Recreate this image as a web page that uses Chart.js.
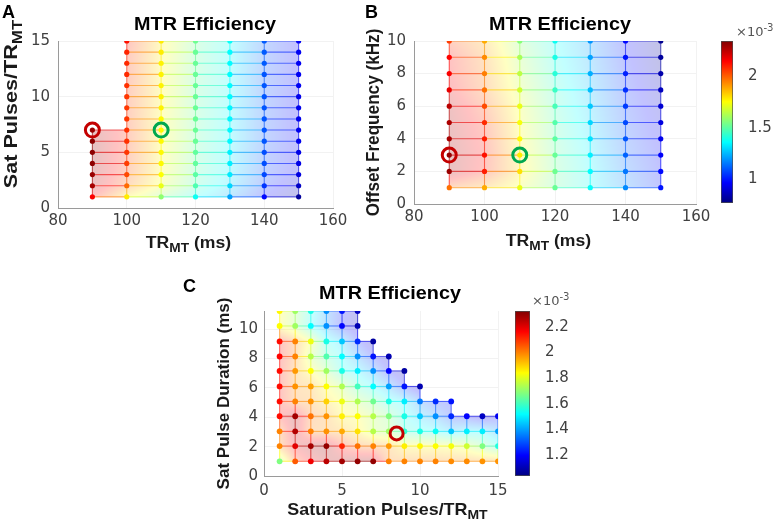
<!DOCTYPE html>
<html>
<head>
<meta charset="utf-8">
<script src="https://cdn.jsdelivr.net/npm/chart.js@4.4.0/dist/chart.umd.min.js"></script>
<style>
  html, body { margin: 0; padding: 0; background: #fff; }
  body { width: 780px; height: 521px; position: relative; overflow: hidden; }
  canvas { position: absolute; }
</style>
</head>
<body>
<canvas id="chartA" width="360" height="260" style="left:0;top:0"></canvas>
<canvas id="chartB" width="360" height="260" style="left:360px;top:0"></canvas>
<canvas id="cbarB" width="65" height="260" style="left:715px;top:0"></canvas>
<canvas id="chartC" width="350" height="246" style="left:170px;top:275px"></canvas>
<canvas id="cbarC" width="71" height="246" style="left:509px;top:275px"></canvas>
<script>
// MTR efficiency values, in units of 1e-3

// panel A: rows = sat pulses per TR, cols = TR_MT
const trMT = [90, 100, 110, 120, 130, 140, 150];
const satPulsesA = [1, 2, 3, 4, 5, 6, 7, 8, 9, 10, 11, 12, 13, 14, 15];
const effA = [
  [2.15, 1.78, 1.58, 1.38, 1.22, 0.98, 0.82],
  [2.28, 1.98, 1.72, 1.48, 1.30, 1.05, 0.88],
  [2.30, 2.03, 1.75, 1.50, 1.33, 1.08, 0.92],
  [2.32, 2.05, 1.76, 1.51, 1.34, 1.09, 0.93],
  [2.32, 2.06, 1.76, 1.51, 1.34, 1.09, 0.93],
  [2.32, 2.07, 1.76, 1.52, 1.35, 1.10, 0.94],
  [2.30, 2.07, 1.76, 1.52, 1.35, 1.10, 0.94],
  [null, 2.06, 1.76, 1.52, 1.35, 1.10, 0.94],
  [null, 2.06, 1.77, 1.52, 1.35, 1.10, 0.94],
  [null, 2.06, 1.77, 1.52, 1.36, 1.10, 0.94],
  [null, 2.07, 1.77, 1.52, 1.36, 1.10, 0.95],
  [null, 2.08, 1.77, 1.52, 1.36, 1.10, 0.95],
  [null, 2.08, 1.77, 1.52, 1.36, 1.11, 0.95],
  [null, 2.09, 1.78, 1.52, 1.36, 1.11, 0.95],
  [null, 2.12, 1.78, 1.53, 1.37, 1.11, 0.95]
];

// panel B: rows = offset frequency (kHz), cols = TR_MT
const offsetFreq = [1, 2, 3, 4, 5, 6, 7, 8, 9, 10];
const effB = [
  [1.97, 1.88, 1.72, 1.52, 1.37, 1.18, 1.00],
  [2.30, 2.10, 1.80, 1.53, 1.36, 1.15, 0.98],
  [2.30, 2.12, 1.78, 1.52, 1.34, 1.12, 0.96],
  [2.28, 2.10, 1.76, 1.50, 1.32, 1.10, 0.94],
  [2.27, 2.08, 1.74, 1.49, 1.30, 1.08, 0.92],
  [2.25, 2.03, 1.72, 1.47, 1.28, 1.06, 0.90],
  [2.18, 1.97, 1.68, 1.45, 1.26, 1.04, 0.87],
  [2.15, 1.95, 1.65, 1.42, 1.24, 1.02, 0.84],
  [2.14, 1.93, 1.62, 1.40, 1.22, 1.00, 0.82],
  [2.05, 1.88, 1.57, 1.38, 1.20, 0.98, 0.80]
];

// panel C: rows = sat pulse duration (ms), cols = saturation pulses per TR
const satPulsesC = [1, 2, 3, 4, 5, 6, 7, 8, 9, 10, 11, 12, 13, 14, 15];
const pulseDur = [1.0, 2.04, 3.04, 4.07, 5.08, 6.1, 7.16, 8.14, 9.17, 10.22, 11.24];
const effC = [
  [1.68, 2.05, 2.18, 2.25, 2.28, 2.30, 2.30, 2.00, 2.00, 2.00, 2.00, 1.99, 1.99, 1.98, 1.98],
  [2.00, 2.20, 2.28, 2.30, 2.12, 2.02, 2.00, 1.97, 1.86, 1.85, 1.84, 1.83, 1.78, 1.68, 1.56],
  [2.00, 2.26, 2.00, 1.98, 1.95, 1.88, 1.75, 1.72, 1.58, 1.55, 1.53, 1.45, 1.50, 1.50, 1.40],
  [2.15, 2.28, 2.02, 1.98, 1.86, 1.84, 1.75, 1.68, 1.55, 1.45, 1.38, 1.25, 1.20, 1.12, 1.18],
  [2.15, 2.00, 1.98, 1.90, 1.82, 1.74, 1.66, 1.55, 1.50, 1.35, 1.25, 1.22],
  [2.15, 1.98, 1.96, 1.84, 1.74, 1.60, 1.52, 1.40, 1.22, 1.10],
  [2.15, 1.97, 1.84, 1.72, 1.55, 1.50, 1.38, 1.20, 1.08],
  [2.16, 2.00, 1.75, 1.62, 1.52, 1.38, 1.22, 1.10],
  [2.15, 2.00, 1.82, 1.55, 1.45, 1.25, 1.08],
  [1.84, 1.72, 1.52, 1.38, 1.20, 1.10],
  [1.85, 1.72, 1.55, 1.38, 1.22, 1.12]
];

// colour limits of the two colorbars (x1e-3)
const climB = [0.774, 2.339];
const climC = [1.036, 2.325];

// circled settings
const optimumA = [{ x: 90, y: 7 }];
const chosenA = [{ x: 110, y: 7 }];
const optimumB = [{ x: 90, y: 3 }];
const chosenB = [{ x: 110, y: 3 }];
const optimumC = [{ x: 8.5, y: 2.9 }];

const TICK_FONT = { family: 'DejaVu Sans', size: 15 };
const TICK_COLOR = '#404040';
const BOLD = 'Liberation Sans';

function jet(t) {
  t = Math.min(1, Math.max(0, t));
  const f = c => Math.round(255 * Math.min(1, Math.max(0, 1.5 - Math.abs(4 * t - c))));
  return [f(3), f(2), f(1)];
}

function jetColor(v, clim, a) {
  const [r, g, b] = jet((v - clim[0]) / (clim[1] - clim[0]));
  return `rgba(${r},${g},${b},${a})`;
}

// mesh lines along rows and columns, plus the coloured dots
function meshDatasets(xs, ys, M, clim, dotR) {
  const sets = [];
  const addLine = pts => {
    if (pts.length < 2) return;
    sets.push({
      type: 'line',
      data: pts,
      showLine: true,
      pointRadius: 0,
      pointHitRadius: 0,
      borderWidth: 1.1,
      borderColor: 'rgba(0,0,0,0.3)',
      segment: {
        borderColor: c => jetColor((pts[c.p0DataIndex].v + pts[c.p1DataIndex].v) / 2, clim, 0.6)
      },
      order: 2
    });
  };
  ys.forEach((y, j) => {
    const pts = [];
    xs.forEach((x, i) => { const v = M[j][i]; if (v != null) pts.push({ x, y, v }); });
    addLine(pts);
  });
  xs.forEach((x, i) => {
    const pts = [];
    ys.forEach((y, j) => { const v = M[j][i]; if (v != null) pts.push({ x, y, v }); });
    addLine(pts);
  });
  const dots = [];
  ys.forEach((y, j) => xs.forEach((x, i) => {
    const v = M[j][i];
    if (v != null) dots.push({ x, y, v });
  }));
  sets.push({
    type: 'scatter',
    data: dots,
    pointRadius: dotR,
    pointBorderWidth: 0,
    pointBackgroundColor: dots.map(d => jetColor(d.v, clim, 1)),
    order: 1
  });
  return sets;
}

function ring(data, color, r) {
  return {
    type: 'scatter', data, pointRadius: r, pointBorderWidth: 3,
    pointBackgroundColor: 'rgba(0,0,0,0)', pointBorderColor: color, order: 0
  };
}

// pale interpolated surface under the mesh
function makeShading(xs, ys, M, clim, alpha) {
  return {
    id: 'shading',
    beforeDatasetsDraw(chart) {
      const { left, top, right, bottom } = chart.chartArea;
      const dpr = chart.currentDevicePixelRatio || 1;
      const w = Math.round((right - left) * dpr), h = Math.round((bottom - top) * dpr);
      const off = document.createElement('canvas');
      off.width = w; off.height = h;
      const octx = off.getContext('2d');
      const img = octx.createImageData(w, h);
      const sx = chart.scales.x, sy = chart.scales.y;
      const find = (arr, v) => {
        for (let k = 0; k < arr.length - 1; k++) if (v >= arr[k] && v <= arr[k + 1]) return k;
        return -1;
      };
      const xi = [], xu = [];
      for (let px = 0; px < w; px++) {
        const x = sx.getValueForPixel(left + (px + 0.5) / dpr);
        const i = find(xs, x);
        xi.push(i);
        xu.push(i < 0 ? 0 : (x - xs[i]) / (xs[i + 1] - xs[i]));
      }
      for (let py = 0; py < h; py++) {
        const y = sy.getValueForPixel(top + (py + 0.5) / dpr);
        const j = find(ys, y);
        if (j < 0) continue;
        const t = (y - ys[j]) / (ys[j + 1] - ys[j]);
        for (let px = 0; px < w; px++) {
          const i = xi[px];
          if (i < 0) continue;
          const a = M[j][i], b = M[j][i + 1], c = M[j + 1][i], d = M[j + 1][i + 1];
          if (a == null || b == null || c == null || d == null) continue;
          const u = xu[px];
          const v = (a * (1 - u) + b * u) * (1 - t) + (c * (1 - u) + d * u) * t;
          const [r, g, bl] = jet((v - clim[0]) / (clim[1] - clim[0]));
          const o = (py * w + px) * 4;
          img.data[o] = r; img.data[o + 1] = g; img.data[o + 2] = bl; img.data[o + 3] = Math.round(alpha * 255);
        }
      }
      octx.putImageData(img, 0, 0);
      chart.ctx.drawImage(off, left, top, right - left, bottom - top);
    }
  };
}

// text with sub/superscripts, optionally rotated and stretched
function drawRich(ctx, item, x, y) {
  const family = item.family || BOLD;
  const weight = item.weight || 'bold';
  const fontFor = p => `${weight} ${(p.sub || p.sup) ? item.size * 0.78 : item.size}px "${family}"`;
  let width = 0;
  item.parts.forEach(p => { ctx.font = fontFor(p); width += ctx.measureText(p.t).width; });
  ctx.save();
  ctx.translate(x, y);
  if (item.rotate) ctx.rotate(-Math.PI / 2);
  ctx.scale(item.stretch || 1, 1);
  ctx.fillStyle = item.color || '#1a1a1a';
  ctx.textAlign = 'left';
  ctx.textBaseline = 'alphabetic';
  let cx = item.align === 'left' ? 0 : -width / 2;
  item.parts.forEach(p => {
    ctx.font = fontFor(p);
    const dy = p.sub ? item.size * 0.25 : p.sup ? -item.size * 0.42 : 0;
    ctx.fillText(p.t, cx, dy);
    cx += ctx.measureText(p.t).width;
  });
  ctx.restore();
}

function makeLabels(items) {
  return {
    id: 'labels',
    afterDraw(chart) {
      const a = chart.chartArea;
      items.forEach(it => drawRich(chart.ctx, it, it.x(a), it.y(a)));
    }
  };
}

// "2" rather than "2.0", as the colorbars show
const plainNum = v => String(Math.round(v * 100) / 100);

function axis(min, max, step, fit, pad) {
  return {
    type: 'linear', min, max,
    ticks: { stepSize: step, includeBounds: false, padding: pad, color: TICK_COLOR, font: TICK_FONT, callback: plainNum },
    grid: { color: 'rgba(0,0,0,0.05)', drawTicks: false },
    border: { color: '#9a9a9a', width: 1 },
    afterFit(s) { if (s.isHorizontal()) s.height = fit; else s.width = fit; }
  };
}

const cxOf = a => (a.left + a.right) / 2;
const cyOf = a => (a.top + a.bottom) / 2;

function panel(id, cfg) {
  new Chart(document.getElementById(id), {
    type: 'scatter',
    data: { datasets: [...cfg.rings, ...meshDatasets(cfg.xs, cfg.ys, cfg.M, cfg.clim, cfg.dotR)] },
    options: {
      responsive: false,
      animation: false,
      events: [],
      layout: { padding: cfg.padding },
      plugins: { legend: { display: false }, tooltip: { enabled: false } },
      scales: { x: cfg.x, y: cfg.y }
    },
    plugins: [makeShading(cfg.xs, cfg.ys, cfg.M, cfg.clim, 0.24), makeLabels(cfg.labels)]
  });
}

function colorbar(id, clim, step, padding, fit, expPos) {
  new Chart(document.getElementById(id), {
    type: 'bar',
    data: {
      labels: [''],
      datasets: [{
        data: [clim],
        backgroundColor: c => {
          const area = c.chart.chartArea;
          if (!area) return '#888';
          const g = c.chart.ctx.createLinearGradient(0, area.bottom, 0, area.top);
          [0, 0.125, 0.375, 0.625, 0.875, 1].forEach(t => {
            const [r, gg, b] = jet(t);
            g.addColorStop(t, `rgb(${r},${gg},${b})`);
          });
          return g;
        },
        borderColor: '#4d4d4d',
        borderWidth: 1,
        borderSkipped: false,
        barPercentage: 1,
        categoryPercentage: 1
      }]
    },
    options: {
      responsive: false,
      animation: false,
      events: [],
      layout: { padding },
      plugins: { legend: { display: false }, tooltip: { enabled: false } },
      scales: {
        x: { display: false },
        y: {
          position: 'right', min: clim[0], max: clim[1],
          ticks: { stepSize: step, includeBounds: false, padding: 7, color: TICK_COLOR, font: TICK_FONT, callback: plainNum },
          grid: { display: false },
          border: { display: false },
          afterFit(s) { s.width = fit; }
        }
      }
    },
    plugins: [makeLabels([{
      parts: [{ t: '×10' }, { t: '-3', sup: true }],
      family: 'DejaVu Sans', weight: 'normal', size: 13, color: '#555', align: 'left',
      x: () => expPos[0], y: () => expPos[1]
    }])]
  });
}

panel('chartA', {
  xs: trMT, ys: satPulsesA, M: effA, clim: climB, dotR: 2.6,
  rings: [ring(optimumA, '#c40000', 7), ring(chosenA, '#00a84f', 7)],
  padding: { left: 0, right: 27, top: 41, bottom: 0 },
  x: axis(80, 160, 20, 52, 4),
  y: axis(0, 15, 5, 58, 8),
  labels: [
    { parts: [{ t: 'A' }], size: 18, align: 'left', color: '#000', x: () => 2, y: () => 18 },
    { parts: [{ t: 'MTR Efficiency' }], size: 18, stretch: 1.1, color: '#000', x: a => cxOf(a) + 9.5, y: a => a.top - 11.5 },
    { parts: [{ t: 'TR' }, { t: 'MT', sub: true }, { t: ' (ms)' }], size: 16, stretch: 1.1, x: a => cxOf(a) - 7, y: a => a.bottom + 40 },
    { parts: [{ t: 'Sat Pulses/TR' }, { t: 'MT', sub: true }], size: 18, stretch: 1.2, rotate: true, x: a => a.left - 41, y: a => cyOf(a) - 20.5 }
  ]
});

panel('chartB', {
  xs: trMT, ys: offsetFreq, M: effB, clim: climB, dotR: 2.6,
  rings: [ring(optimumB, '#c40000', 7), ring(chosenB, '#00a84f', 7)],
  padding: { left: 0, right: 24, top: 41, bottom: 0 },
  x: axis(80, 160, 20, 56, 4),
  y: axis(0, 10, 2, 54, 8),
  labels: [
    { parts: [{ t: 'B' }], size: 18, align: 'left', color: '#000', x: () => 5, y: () => 18 },
    { parts: [{ t: 'MTR Efficiency' }], size: 18, stretch: 1.1, color: '#000', x: a => cxOf(a) + 5, y: a => a.top - 11 },
    { parts: [{ t: 'TR' }, { t: 'MT', sub: true }, { t: ' (ms)' }], size: 16, stretch: 1.1, x: a => cxOf(a) - 6.5, y: a => a.bottom + 42 },
    { parts: [{ t: 'Offset Frequency (kHz)' }], size: 17.5, stretch: 0.98, rotate: true, x: a => a.left - 35, y: a => cyOf(a) }
  ]
});

panel('chartC', {
  xs: satPulsesC, ys: pulseDur, M: effC, clim: climC, dotR: 2.9,
  rings: [ring(optimumC, '#c40000', 6.5)],
  padding: { left: 0, right: 22, top: 36, bottom: 0 },
  x: axis(0, 15, 5, 45, 6),
  y: axis(0, 11.24, 2, 94, 6),
  labels: [
    { parts: [{ t: 'C' }], size: 18, align: 'left', color: '#000', x: () => 13, y: () => 17 },
    { parts: [{ t: 'MTR Efficiency' }], size: 18, stretch: 1.1, color: '#000', x: a => cxOf(a) + 9, y: a => a.top - 12 },
    { parts: [{ t: 'Saturation Pulses/TR' }, { t: 'MT', sub: true }], size: 16.3, stretch: 1.1, x: a => cxOf(a) + 6.5, y: a => a.bottom + 39 },
    { parts: [{ t: 'Sat Pulse Duration (ms)' }], size: 17, stretch: 1.0, rotate: true, x: a => a.left - 35, y: a => cyOf(a) }
  ]
});

colorbar('cbarB', climB, 0.5, { left: 6, right: 0, top: 41, bottom: 57 }, 47, [21, 36]);
colorbar('cbarC', climC, 0.2, { left: 6, right: 0, top: 36, bottom: 45 }, 50, [23, 30]);
</script>
</body>
</html>
